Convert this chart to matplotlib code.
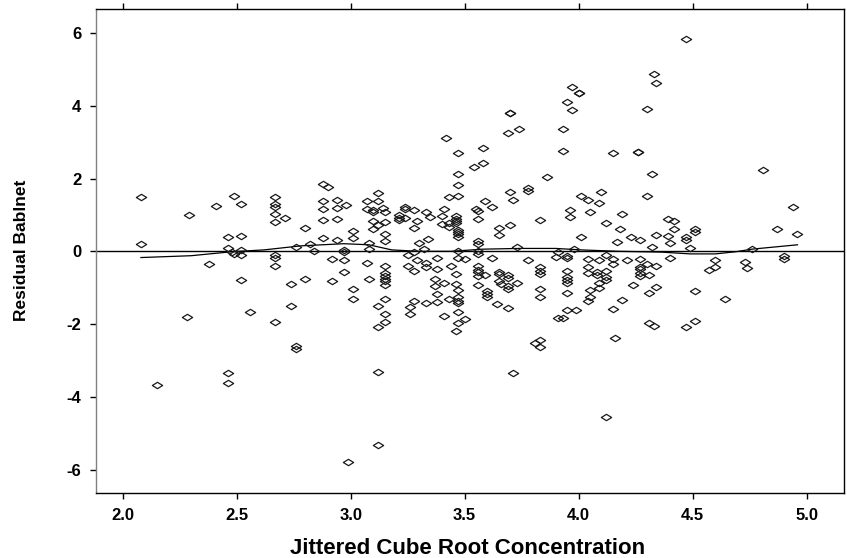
import matplotlib
matplotlib.use('Agg')
import matplotlib.pyplot as plt
from matplotlib.path import Path

# jittered cube-root concentration (x) and residual (y)
conc = [
    2.08, 2.08, 2.29, 2.41, 2.49, 2.52, 2.46, 2.52, 2.46, 2.48, 2.49, 2.52, 2.52, 2.38, 2.52, 2.28, 2.15, 2.46, 2.46, 2.56,
    2.67, 2.67, 2.67, 2.67, 2.71, 2.67, 2.80, 2.88, 2.90, 2.88, 2.94, 2.98, 2.88, 2.94, 2.88, 2.94, 2.88, 2.94, 3.01, 3.01,
    3.07, 3.12, 3.12, 3.07, 3.10, 3.10, 3.14, 3.15, 3.10, 3.12, 3.15, 3.10, 3.15, 3.15, 3.08, 3.08, 2.76, 2.82, 2.84, 2.97,
    2.97, 2.67, 2.67, 2.67, 2.92, 2.97, 2.97, 3.07, 3.15, 3.15, 3.15, 3.15, 3.15, 3.15, 2.74, 2.80, 2.92, 3.08, 3.01, 3.01,
    3.15, 2.74, 3.12, 2.67, 3.15, 3.15, 3.12, 2.76, 2.76, 3.12, 3.12, 2.99,
    3.47, 3.58, 3.58, 3.54, 3.47, 3.47, 3.43, 3.47, 3.86, 3.70, 3.71, 3.78, 3.78, 3.59, 3.62, 3.55, 3.56, 3.56, 3.83, 3.70,
    3.65, 3.65, 3.73,
    3.24, 3.24, 3.21, 3.21, 3.21, 3.24, 3.28, 3.33, 3.35, 3.29, 3.28, 3.41, 3.40, 3.40, 3.43, 3.43, 3.46, 3.46, 3.46, 3.46,
    3.47, 3.47, 3.47, 3.47, 3.56, 3.56, 3.34, 3.30, 3.32, 3.25, 3.28, 3.47,
    3.56, 3.56, 3.29, 3.25, 3.28, 3.33, 3.33, 3.38, 3.38, 3.44, 3.47, 3.50, 3.46, 3.62, 3.56, 3.56, 3.56, 3.56, 3.59, 3.56,
    3.65, 3.65, 3.69, 3.69, 3.65, 3.66, 3.69, 3.69, 3.73, 3.78, 3.83, 3.83, 3.83, 3.83, 3.83, 3.60, 3.60, 3.60, 3.64, 3.69,
    3.37, 3.37, 3.41, 3.38, 3.43, 3.38, 3.33, 3.28, 3.26, 3.26, 3.46, 3.47, 3.47, 3.47, 3.47, 3.47, 3.41, 3.47, 3.50, 3.46,
    3.81, 3.83, 3.83, 3.71, 3.70, 3.70, 3.69, 3.74, 3.42,
    3.93, 4.15, 4.26, 4.26, 4.32, 4.01, 4.04, 4.10, 4.09, 4.30, 3.96, 3.96, 4.05, 4.19, 4.12, 4.18, 4.01, 4.17, 4.23, 4.27,
    4.34, 4.39, 4.42, 4.42, 4.39, 4.40, 4.51, 4.51, 4.47, 4.47, 4.32, 4.49, 3.98, 3.91, 4.12, 3.90, 3.95, 3.95, 4.04, 4.04,
    4.09, 4.15, 4.15, 4.21, 4.27, 4.27, 4.27, 4.27, 4.27, 4.30, 4.34, 4.31, 4.40, 3.95, 3.95, 3.95, 3.95, 3.95, 4.04, 4.08,
    4.08, 4.12, 4.12, 4.12, 4.09, 4.09, 4.05, 4.05, 4.04, 4.24, 4.31, 4.34, 4.19, 4.15, 3.95, 3.99, 3.91, 3.93, 4.31, 4.33,
    4.47, 4.51, 4.51, 4.16, 4.12, 3.97, 4.00, 4.00, 3.95, 3.97, 3.93, 4.47, 4.33, 4.34, 4.30,
    4.81, 4.94, 4.87, 4.96, 4.76, 4.60, 4.60, 4.57, 4.73, 4.74, 4.90, 4.90, 4.64,
]
resid = [
    1.48, 0.19, 0.99, 1.25, 1.52, 1.31, 0.40, 0.43, 0.08, -0.01, -0.08, 0.04, -0.10, -0.35, -0.78, -1.81, -3.68, -3.33, -3.62, -1.67,
    1.48, 1.29, 1.22, 1.02, 0.91, 0.80, 0.65, 1.86, 1.77, 1.37, 1.40, 1.26, 1.16, 1.20, 0.85, 0.88, 0.37, 0.32, 0.56, 0.37,
    1.37, 1.60, 1.39, 1.17, 1.13, 1.07, 1.20, 1.08, 0.83, 0.72, 0.80, 0.62, 0.48, 0.29, 0.24, 0.06, 0.13, 0.19, 0.02, 0.04,
    -0.01, -0.11, -0.18, -0.41, -0.21, -0.24, -0.56, -0.32, -0.41, -0.60, -0.67, -0.75, -0.82, -0.92, -0.90, -0.76, -0.81, -0.76, -1.04, -1.32,
    -1.32, -1.50, -1.50, -1.93, -1.73, -1.93, -2.09, -2.59, -2.67, -3.30, -5.31, -5.79,
    2.71, 2.84, 2.42, 2.31, 2.11, 1.83, 1.48, 1.51, 2.03, 1.63, 1.42, 1.75, 1.67, 1.37, 1.23, 1.17, 1.11, 0.88, 0.86, 0.71,
    0.65, 0.45, 0.13,
    1.23, 1.16, 1.00, 0.91, 0.85, 0.91, 1.14, 1.07, 0.93, 0.83, 0.65, 1.16, 0.98, 0.76, 0.79, 0.68, 0.98, 0.90, 0.83, 0.78,
    0.59, 0.53, 0.47, 0.39, 0.28, 0.21, 0.34, 0.23, 0.06, -0.10, -0.01, 0.02,
    0.01, -0.07, -0.23, -0.40, -0.54, -0.32, -0.43, -0.17, -0.49, -0.39, -0.17, -0.21, -0.62, -0.17, -0.40, -0.51, -0.58, -0.67, -0.64, -0.92,
    -0.56, -0.63, -0.65, -0.72, -0.81, -0.90, -0.95, -1.04, -0.86, -0.25, -0.42, -0.53, -0.62, -1.04, -1.24, -1.09, -1.17, -1.25, -1.44, -1.55,
    -0.76, -0.95, -0.86, -1.17, -1.31, -1.39, -1.43, -1.35, -1.52, -1.72, -0.91, -1.06, -1.26, -1.35, -1.42, -1.67, -1.77, -1.97, -1.86, -2.18,
    -2.52, -2.44, -2.64, -3.33, 3.80, 3.80, 3.26, 3.37, 3.12,
    2.76, 2.71, 2.74, 2.74, 2.12, 1.51, 1.40, 1.64, 1.34, 1.53, 1.14, 0.93, 1.07, 1.03, 0.78, 0.62, 0.39, 0.26, 0.39, 0.32,
    0.45, 0.89, 0.83, 0.62, 0.41, 0.23, 0.61, 0.52, 0.39, 0.32, 0.12, 0.08, 0.06, -0.02, -0.10, -0.16, -0.12, -0.19, -0.21, -0.42,
    -0.23, -0.20, -0.35, -0.23, -0.21, -0.42, -0.49, -0.60, -0.67, -0.34, -0.40, -0.65, -0.17, -0.53, -0.71, -0.78, -0.86, -1.13, -0.60, -0.58,
    -0.65, -0.54, -0.71, -0.78, -0.86, -1.01, -1.06, -1.24, -1.35, -0.92, -1.15, -0.99, -1.33, -1.58, -1.61, -1.61, -1.84, -1.84, -1.96, -2.04,
    -2.07, -1.90, -1.09, -2.39, -4.54, 4.50, 4.35, 4.35, 4.09, 3.89, 3.37, 5.84, 4.87, 4.61, 3.92,
    2.23, 1.22, 0.62, 0.48, 0.06, -0.23, -0.43, -0.50, -0.29, -0.45, -0.14, -0.22, -1.30,
]

# smoother through the residuals
smooth_x = [2.08, 2.30, 2.48, 2.62, 2.78, 2.97, 3.08, 3.18, 3.30, 3.44, 3.58, 3.74, 3.90,
            4.01, 4.18, 4.36, 4.49, 4.60, 4.69, 4.76, 4.96]
smooth_y = [-0.17, -0.12, -0.01, 0.04, 0.15, 0.21, 0.18, 0.04, 0.0, 0.0, 0.06, 0.08, 0.08,
            0.04, 0.0, -0.02, -0.07, -0.07, -0.01, 0.06, 0.18]

xticks = [2.0, 2.5, 3.0, 3.5, 4.0, 4.5, 5.0]
yticks = [-6, -4, -2, 0, 2, 4, 6]

plt.rcParams['font.family'] = ['Liberation Sans', 'DejaVu Sans']
plt.rcParams['font.weight'] = 'bold'
plt.rcParams['axes.unicode_minus'] = False

fig = plt.figure(figsize=(8.47, 5.58), dpi=100)
ax = fig.add_axes([96 / 847, 65 / 558, 748 / 847, 484 / 558])

# flattened open diamond like the S-Plus symbol
diamond = Path([(-1, 0), (0, 0.62), (1, 0), (0, -0.62), (-1, 0)],
               [Path.MOVETO, Path.LINETO, Path.LINETO, Path.LINETO, Path.CLOSEPOLY])

ax.axhline(0, color='black', lw=1.0, zorder=1)
ax.plot(smooth_x, smooth_y, color='black', lw=0.9, zorder=2)
ax.plot(conc, resid, linestyle='none', marker=diamond, markersize=7.4,
        markerfacecolor='none', markeredgecolor='#1a1a1a', markeredgewidth=0.9, zorder=3)

ax.set_xlim(1.883, 5.164)
ax.set_ylim(-6.635, 6.654)
ax.set_xticks(xticks)
ax.set_xticklabels([f'{t:.1f}' for t in xticks])
ax.set_yticks(yticks)
ax.set_yticklabels([str(t) for t in yticks])
ax.tick_params(axis='x', which='both', bottom=True, top=True, direction='out',
               length=4.5, width=1, labelsize=12, pad=6)
ax.tick_params(axis='y', which='both', left=True, right=False, direction='out',
               length=4.5, width=1, labelsize=12, pad=6)

for side in ['top', 'right', 'bottom']:
    ax.spines[side].set_color('black')
    ax.spines[side].set_linewidth(1)
ax.spines['left'].set_color('#808080')
ax.spines['left'].set_linewidth(1)

fig.text(468 / 847, 1 - 548 / 558, 'Jittered Cube Root Concentration',
         ha='center', va='center', fontsize=16, fontweight='bold')
fig.text(21 / 847, 1 - 250 / 558, 'Residual Bablnet', rotation=90,
         ha='center', va='center', fontsize=12.5, fontweight='bold')

fig.savefig('out.png', dpi=100)
